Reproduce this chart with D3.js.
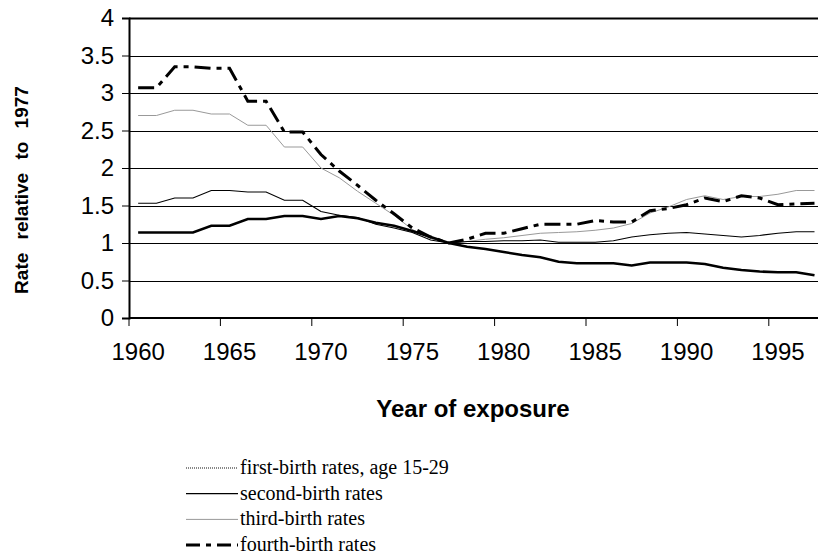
<!DOCTYPE html>
<html>
<head>
<meta charset="utf-8">
<script src="https://cdn.jsdelivr.net/npm/d3@7"></script>
<style>
  body { margin: 0; background: #fff; }
  svg { display: block; }
  .tick text { font-family: Arial, "Liberation Sans", sans-serif; }
</style>
</head>
<body>
<svg id="chart" width="818" height="558"></svg>
<script>
const years = d3.range(1960, 1998)

const firstBirth = [1.14, 1.14, 1.14, 1.14, 1.23, 1.23, 1.32, 1.32, 1.36, 1.36,
  1.32, 1.36, 1.33, 1.27, 1.23, 1.16, 1.08, 1.00, 0.95, 0.92,
  0.88, 0.84, 0.81, 0.75, 0.73, 0.73, 0.73, 0.70, 0.74, 0.74,
  0.74, 0.72, 0.67, 0.64, 0.62, 0.61, 0.61, 0.57]

const secondBirth = [1.53, 1.53, 1.60, 1.60, 1.70, 1.70, 1.68, 1.68, 1.57, 1.57,
  1.42, 1.37, 1.34, 1.25, 1.20, 1.14, 1.04, 1.00, 1.02, 1.02,
  1.03, 1.03, 1.04, 1.01, 1.01, 1.01, 1.03, 1.08, 1.11, 1.13,
  1.14, 1.12, 1.10, 1.08, 1.10, 1.13, 1.15, 1.15]

const thirdBirth = [2.70, 2.70, 2.77, 2.77, 2.72, 2.72, 2.57, 2.57, 2.28, 2.28,
  2.00, 1.87, 1.69, 1.53, 1.37, 1.18, 1.06, 1.00, 1.02, 1.05,
  1.07, 1.10, 1.13, 1.14, 1.15, 1.17, 1.20, 1.26, 1.40, 1.48,
  1.58, 1.63, 1.58, 1.62, 1.62, 1.65, 1.70, 1.70]

const fourthBirth = [3.07, 3.07, 3.35, 3.35, 3.33, 3.33, 2.89, 2.89, 2.48, 2.48,
  2.18, 1.96, 1.77, 1.57, 1.39, 1.20, 1.08, 1.00, 1.05, 1.13,
  1.13, 1.19, 1.25, 1.25, 1.25, 1.30, 1.28, 1.28, 1.43, 1.46,
  1.51, 1.60, 1.55, 1.63, 1.60, 1.51, 1.52, 1.53]

const yTicks = [0, 0.5, 1, 1.5, 2, 2.5, 3, 3.5, 4]
const labelYears = [1960, 1965, 1970, 1975, 1980, 1985, 1990, 1995]

const seriesNames = ['first-birth rates, age 15-29', 'second-birth rates', 'third-birth rates', 'fourth-birth rates']

const plotLeft = 129, plotTop = 18, plotBottom = 318, step = 18.28

const svg = d3.select('#chart')
svg.append('rect').attr('width', 818).attr('height', 558).attr('fill', '#fff')

const x = d3.scaleBand().domain(years).range([plotLeft, plotLeft + years.length * step])
const y = d3.scaleLinear().domain([0, 4]).range([plotBottom, plotTop])
const plotRight = plotLeft + years.length * step

// gridlines
svg.append('g')
  .selectAll('line')
  .data(yTicks.filter(d => d > 0))
  .join('line')
  .attr('x1', plotLeft).attr('x2', plotRight)
  .attr('y1', d => Math.round(y(d)) + 0.5).attr('y2', d => Math.round(y(d)) + 0.5)
  .attr('stroke', '#000')
  .attr('stroke-width', d => d === 4 ? 2 : 1)

// y axis
const yAxis = svg.append('g')
  .attr('transform', `translate(${plotLeft},0)`)
  .call(d3.axisLeft(y).tickValues(yTicks).tickSize(7).tickPadding(8).tickFormat(d3.format('')))
yAxis.select('.domain').attr('stroke-width', 2)
yAxis.selectAll('.tick line').attr('stroke-width', 1)
yAxis.selectAll('.tick text').attr('font-size', 24).attr('fill', '#000')

// x axis: labels centred on categories, tick marks on band edges
const xAxis = svg.append('g')
  .attr('transform', `translate(0,${plotBottom})`)
  .call(d3.axisBottom(x).tickValues(labelYears).tickSize(0).tickPadding(25))
xAxis.select('.domain').attr('stroke-width', 2).attr('d', `M${plotLeft},0H${plotRight}`)
xAxis.selectAll('.tick line').remove()
xAxis.selectAll('.tick text').attr('font-size', 24).attr('fill', '#000')

svg.append('g')
  .selectAll('line')
  .data(labelYears)
  .join('line')
  .attr('x1', d => x(d)).attr('x2', d => x(d))
  .attr('y1', plotBottom).attr('y2', plotBottom + 8)
  .attr('stroke', '#000')

// axis titles
svg.append('text')
  .attr('x', 473).attr('y', 417)
  .attr('text-anchor', 'middle')
  .attr('font-family', 'Arial, "Liberation Sans", sans-serif')
  .attr('font-weight', 'bold')
  .attr('font-size', 24)
  .text('Year of exposure')

svg.append('text')
  .attr('transform', 'translate(28,190) rotate(-90)')
  .attr('text-anchor', 'middle')
  .attr('font-family', 'Arial, "Liberation Sans", sans-serif')
  .attr('font-weight', 'bold')
  .attr('font-size', 19)
  .attr('word-spacing', 8)
  .text('Rate relative to 1977')

// lines
const line = d3.line()
  .x((d, i) => x(years[i]) + x.bandwidth() / 2)
  .y(d => y(d))

const styles = [
  { data: thirdBirth, color: '#999', width: 1, dash: null },
  { data: secondBirth, color: '#000', width: 1.2, dash: null },
  { data: firstBirth, color: '#000', width: 2.6, dash: null },
  { data: fourthBirth, color: '#000', width: 3, dash: '16,6,5,6' }
]

styles.forEach(s => {
  svg.append('path')
    .datum(s.data)
    .attr('d', line)
    .attr('fill', 'none')
    .attr('stroke', s.color)
    .attr('stroke-width', s.width)
    .attr('stroke-dasharray', s.dash)
})

// legend
const legendStyles = [
  { color: '#888', width: 2, dash: '1,1' },
  { color: '#000', width: 1.2, dash: null },
  { color: '#999', width: 1, dash: null },
  { color: '#000', width: 3, dash: '14,6,5,6' }
]
const legend = svg.append('g')
seriesNames.forEach((name, i) => {
  const ly = 468 + i * 25.7
  legend.append('line')
    .attr('x1', 186).attr('x2', 238)
    .attr('y1', ly).attr('y2', ly)
    .attr('stroke', legendStyles[i].color)
    .attr('stroke-width', legendStyles[i].width)
    .attr('stroke-dasharray', legendStyles[i].dash)
  legend.append('text')
    .attr('x', 240).attr('y', ly + 6)
    .attr('font-family', '"Liberation Serif", "Times New Roman", serif')
    .attr('font-size', 20)
    .text(name)
})
</script>
</body>
</html>
